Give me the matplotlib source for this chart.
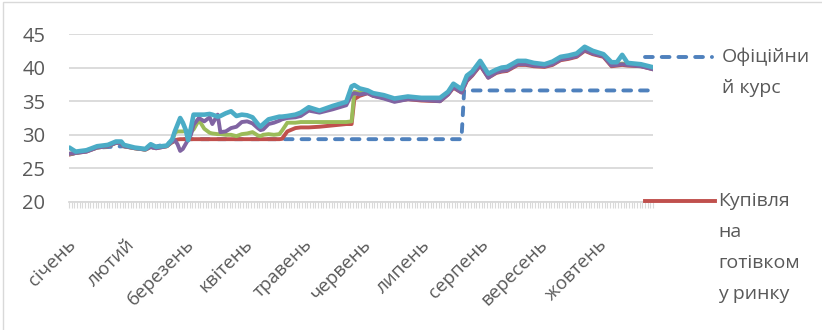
import matplotlib
matplotlib.use("Agg")
import matplotlib.pyplot as plt
from matplotlib.lines import Line2D
from matplotlib.patches import Rectangle
from matplotlib.transforms import ScaledTranslation

# === Data (category index = trading day, 218 days) ===
n_days = 218
months = ["січень", "лютий", "березень", "квітень", "травень",
          "червень", "липень", "серпень", "вересень", "жовтень"]
month_step = 22

days = [0, 2, 6, 10, 14, 17, 19, 20, 24, 28, 30, 32, 36, 38,
        39, 40, 41, 42, 43, 44, 45, 46, 48, 50, 52, 53, 55, 56, 58, 60, 62, 64,
        66, 68, 70, 71, 72, 74, 76, 78, 79, 81, 84, 86, 89, 93, 98, 103, 105,
        106, 108,
        111, 113, 117, 121, 126, 131, 138, 141, 143, 146, 148, 150, 153, 156,
        159, 161, 163, 167, 170, 173, 177, 180, 183, 186, 189, 192, 195, 199,
        202, 204, 206, 208, 213, 217]

official_days = [0, 10, 20, 28, 38, 40, 146, 147, 217]
official = [27.1, 28.1, 28.3, 27.8, 28.9, 29.35, 29.35, 36.6, 36.6]

cash_buy = [27.1, 27.3, 27.5, 28.1, 28.3, 28.8, 28.8, 28.3, 28.0, 27.8, 28.2, 28.0, 28.3, 28.9,
            29.1, 29.3, 29.35, 29.35, 29.35, 29.35, 29.35, 29.35, 29.35, 29.35, 29.35, 29.35,
            29.35, 29.35, 29.35, 29.35, 29.35, 29.35, 29.35, 29.35, 29.35, 29.35, 29.35, 29.35,
            29.35, 29.35, 29.4, 30.5, 31.0, 31.1, 31.1, 31.2, 31.4, 31.6, 31.6, 35.3, 35.8,
            36.2, 35.8, 35.5, 35.0, 35.3, 35.1, 35.0, 36.0, 37.0, 36.3, 38.0, 38.8, 40.3, 38.5,
            39.2, 39.4, 39.5, 40.4, 40.4, 40.2, 40.1, 40.4, 41.1, 41.3, 41.6, 42.5, 42.0, 41.6,
            40.2, 40.3, 40.4, 40.3, 40.2, 39.8]

series_green = [27.2, 27.3, 27.6, 28.1, 28.3, 28.8, 28.9, 28.3, 28.0, 27.8, 28.2, 28.1, 28.3, 29.0,
                30.3, 30.5, 30.5, 30.5, 30.6, 30.5, 30.4, 30.8, 32.2, 30.9, 30.3, 30.2, 30.1, 30.1,
                30.0, 30.0, 29.8, 30.1, 30.2, 30.4, 29.9, 29.8, 30.0, 30.1, 30.0, 30.1, 30.6, 31.8,
                31.8, 31.9, 31.9, 31.9, 31.9, 31.9, 32.0, 36.4, 36.3,
                36.4, 36.0, 35.7, 35.2, 35.5, 35.3, 35.2, 36.2, 37.3, 36.5, 38.3, 39.0, 40.6, 38.7,
                39.4, 39.6, 39.7, 40.6, 40.6, 40.4, 40.3, 40.6, 41.3, 41.5, 41.8, 42.7, 42.2, 41.8,
                40.4, 40.5, 40.6, 40.5, 40.3, 39.9]

series_purple = [27.2, 27.3, 27.5, 28.1, 28.3, 28.8, 28.8, 28.3, 28.0, 27.8, 28.2, 28.0, 28.3, 29.0,
                 29.2, 28.6, 27.6, 27.9, 28.6, 29.3, 30.0, 31.5, 32.5, 32.0, 32.6, 31.6, 33.0, 30.4,
                 30.5, 31.0, 31.2, 31.9, 32.0, 31.7, 31.0, 30.7, 30.8, 31.6, 31.8, 32.1, 32.3, 32.5,
                 32.6, 32.8, 33.6, 33.3, 33.8, 34.4, 36.0, 36.2, 36.0,
                 36.2, 35.8, 35.4, 34.9, 35.3, 35.2, 35.0, 36.0, 37.1, 36.3, 38.1, 38.9, 40.4, 38.5,
                 39.3, 39.5, 39.6, 40.5, 40.5, 40.3, 40.2, 40.5, 41.2, 41.4, 41.7, 42.6, 42.1, 41.7,
                 40.3, 40.4, 40.5, 40.4, 40.2, 39.8]

series_cyan = [28.0, 27.5, 27.7, 28.3, 28.5, 29.0, 29.0, 28.5, 28.1, 27.9, 28.6, 28.2, 28.4, 29.3,
               30.5, 31.5, 32.5, 31.8, 30.8, 29.2, 31.0, 33.0, 33.0, 33.0, 33.1, 33.0, 32.7, 32.8,
               33.2, 33.5, 32.8, 33.0, 32.9, 32.6, 31.6, 31.2, 31.6, 32.3, 32.5, 32.7, 32.7, 32.8,
               33.0, 33.3, 34.1, 33.6, 34.3, 34.9, 37.2, 37.4, 36.9,
               36.6, 36.2, 35.9, 35.4, 35.7, 35.5, 35.5, 36.4, 37.6, 36.8, 38.8, 39.4, 41.0, 39.1,
               39.7, 40.0, 40.1, 41.0, 41.0, 40.7, 40.5, 40.9, 41.6, 41.8, 42.1, 43.1, 42.5, 42.0,
               40.8, 40.8, 41.9, 40.7, 40.5, 40.1]

legend_official = ["Офіційни", "й курс"]
legend_cash = ["Купівля", "на", "готівком", "у ринку"]

# === Plot ===
plt.rcParams['font.family'] = ['Open Sans', 'DejaVu Sans']
W, H = 822, 330
fig = plt.figure(figsize=(W / 100, H / 100), dpi=100)
ax = fig.add_axes([69 / W, 1 - 202 / H, (653 - 69) / W, (202 - 34) / H])

grey_txt = "#595959"
grid_c = "#d9d9d9"
blue, red, green, purple, cyan = "#4F81BD", "#C0504D", "#9BBB59", "#8064A2", "#4BACC6"

ax.plot(official_days, official, color=blue, lw=2.8, ls=(0, (2.0, 2.3)),
        dash_capstyle="round", zorder=2)
ax.plot(days, cash_buy, color=red, lw=2.8, zorder=3, solid_joinstyle="round")
ax.plot(days, series_green, color=green, lw=2.8, zorder=4, solid_joinstyle="round")
ax.plot(days, series_purple, color=purple, lw=2.8, zorder=5, solid_joinstyle="round")
ax.plot(days, series_cyan, color=cyan, lw=3.3, zorder=6, solid_joinstyle="round")

ax.set_xlim(-0.5, n_days - 0.5)
ax.set_ylim(20, 45)
ax.set_yticks([20, 25, 30, 35, 40, 45])
ax.yaxis.grid(True, color=grid_c, lw=1.3)
ax.set_axisbelow(True)
for s in ["top", "right", "left"]:
    ax.spines[s].set_visible(False)
ax.spines["bottom"].set_color(grid_c)
ax.spines["bottom"].set_linewidth(1.3)

ax.tick_params(axis="y", length=0, pad=17, labelsize=14.5, labelcolor=grey_txt)

# category ticks (one per day) + month labels
ax.set_xticks([d - 0.5 for d in range(n_days + 1)], minor=True)
ax.tick_params(axis="x", which="minor", length=4.5, width=0.8, color=grid_c)
ax.set_xticks([k * month_step for k in range(len(months))])
ax.set_xticklabels(months, rotation=45, ha="right", va="center",
                   rotation_mode="anchor", fontsize=13.5, color=grey_txt)
ax.tick_params(axis="x", which="major", length=0, pad=0)
off = ScaledTranslation(3 / 100, -40 / 100, fig.dpi_scale_trans)
for lab in ax.get_xticklabels():
    lab.set_transform(lab.get_transform() + off)

# legend (drawn manually, Excel-like wrapped entries)
fig.add_artist(Line2D([645 / W, 712 / W], [1 - 57 / H, 1 - 57 / H], color=blue, lw=2.8,
                      ls=(0, (2.0, 2.3)), dash_capstyle="round"))
fig.add_artist(Line2D([645 / W, 715 / W], [1 - 201 / H, 1 - 201 / H], color=red, lw=2.8))
for j, t in enumerate(legend_official):
    fig.text(722 / W, 1 - (57 + 31 * j) / H, t, fontsize=14, color=grey_txt, va="center")
for j, t in enumerate(legend_cash):
    fig.text(718 / W, 1 - (201 + 31 * j) / H, t, fontsize=14, color=grey_txt, va="center")

# chart border
fig.add_artist(Rectangle((3 / W, -0.1), 1.2, 1.1 - 2.5 / H, transform=fig.transFigure,
                         fill=False, edgecolor=grid_c, lw=1))

fig.savefig("out.png", dpi=100)
